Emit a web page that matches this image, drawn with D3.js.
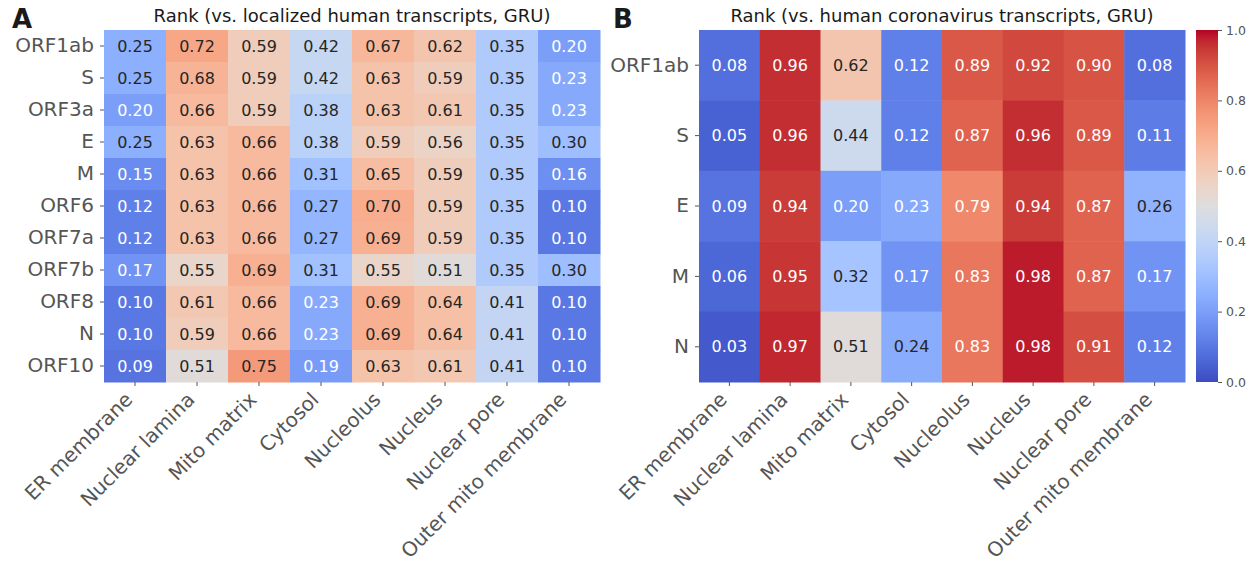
<!DOCTYPE html>
<html>
<head>
<meta charset="utf-8">
<script src="https://cdn.jsdelivr.net/npm/d3@7"></script>
<style>
  body { margin: 0; background: #fff; }
  svg { font-family: "DejaVu Sans", sans-serif; }
</style>
</head>
<body>
<svg id="chart" width="1256" height="564"></svg>
<script>
const compartments = ["ER membrane", "Nuclear lamina", "Mito matrix", "Cytosol",
  "Nucleolus", "Nucleus", "Nuclear pore", "Outer mito membrane"];

const genesA = ["ORF1ab", "S", "ORF3a", "E", "M", "ORF6", "ORF7a", "ORF7b", "ORF8", "N", "ORF10"];
const valuesA = [
  [0.25, 0.72, 0.59, 0.42, 0.67, 0.62, 0.35, 0.20],
  [0.25, 0.68, 0.59, 0.42, 0.63, 0.59, 0.35, 0.23],
  [0.20, 0.66, 0.59, 0.38, 0.63, 0.61, 0.35, 0.23],
  [0.25, 0.63, 0.66, 0.38, 0.59, 0.56, 0.35, 0.30],
  [0.15, 0.63, 0.66, 0.31, 0.65, 0.59, 0.35, 0.16],
  [0.12, 0.63, 0.66, 0.27, 0.70, 0.59, 0.35, 0.10],
  [0.12, 0.63, 0.66, 0.27, 0.69, 0.59, 0.35, 0.10],
  [0.17, 0.55, 0.69, 0.31, 0.55, 0.51, 0.35, 0.30],
  [0.10, 0.61, 0.66, 0.23, 0.69, 0.64, 0.41, 0.10],
  [0.10, 0.59, 0.66, 0.23, 0.69, 0.64, 0.41, 0.10],
  [0.09, 0.51, 0.75, 0.19, 0.63, 0.61, 0.41, 0.10]
];

const genesB = ["ORF1ab", "S", "E", "M", "N"];
const valuesB = [
  [0.08, 0.96, 0.62, 0.12, 0.89, 0.92, 0.90, 0.08],
  [0.05, 0.96, 0.44, 0.12, 0.87, 0.96, 0.89, 0.11],
  [0.09, 0.94, 0.20, 0.23, 0.79, 0.94, 0.87, 0.26],
  [0.06, 0.95, 0.32, 0.17, 0.83, 0.98, 0.87, 0.17],
  [0.03, 0.97, 0.51, 0.24, 0.83, 0.98, 0.91, 0.12]
];

const cbarTicks = [0, 0.2, 0.4, 0.6, 0.8, 1.0];

// matplotlib "coolwarm" (Moreland) sampled at 33 points
const coolwarmStops = [
  [59,76,192],[68,90,204],[77,104,215],[87,117,225],[98,130,234],[108,142,241],
  [119,154,247],[130,165,251],[141,176,254],[152,185,255],[163,194,255],[174,201,253],
  [184,208,249],[194,213,244],[204,217,238],[213,219,230],[221,221,221],[229,216,209],
  [236,211,197],[241,204,184],[245,196,172],[247,187,159],[247,177,147],[247,166,134],
  [244,154,123],[241,141,111],[236,127,99],[229,112,88],[222,96,77],[213,80,66],
  [203,62,56],[192,40,47],[180,4,38]
];
const color = d3.scaleLinear()
  .domain(coolwarmStops.map((_, i) => i / (coolwarmStops.length - 1)))
  .range(coolwarmStops.map(c => d3.rgb(c[0], c[1], c[2])))
  .interpolate(d3.interpolateRgb)
  .clamp(true);

// seaborn picks annotation colour by relative luminance
function lum(c) {
  const r = d3.rgb(c);
  const f = v => { v /= 255; return v <= 0.03928 ? v / 12.92 : Math.pow((v + 0.055) / 1.055, 2.4); };
  return 0.2126 * f(r.r) + 0.7152 * f(r.g) + 0.0722 * f(r.b);
}

const svg = d3.select("#chart");
const tickCol = "#555";

function heatmap(opts) {
  const { genes, values, x0, x1, y0, y1, title, letter, letterX } = opts;
  const g = svg.append("g");
  const x = d3.scaleBand().domain(compartments).range([x0, x1]);
  const y = d3.scaleBand().domain(genes).range([y0, y1]);

  const cells = [];
  values.forEach((row, i) => row.forEach((v, j) => cells.push({ gene: genes[i], comp: compartments[j], v })));

  g.selectAll("rect.cell").data(cells).join("rect")
    .attr("class", "cell")
    .attr("x", d => x(d.comp))
    .attr("y", d => y(d.gene))
    .attr("width", x.bandwidth() + 0.5)
    .attr("height", y.bandwidth() + 0.5)
    .attr("fill", d => color(d.v));

  g.selectAll("text.ann").data(cells).join("text")
    .attr("class", "ann")
    .attr("x", d => x(d.comp) + x.bandwidth() / 2)
    .attr("y", d => y(d.gene) + y.bandwidth() / 2)
    .attr("text-anchor", "middle")
    .attr("dominant-baseline", "central")
    .attr("font-size", 16)
    .attr("fill", d => lum(color(d.v)) > 0.408 ? "#262626" : "#fff")
    .text(d => d.v.toFixed(2));

  // y axis
  const yAx = g.append("g").attr("transform", `translate(${x0},0)`)
    .call(d3.axisLeft(y).tickSize(4).tickPadding(6));
  yAx.select(".domain").remove();
  yAx.selectAll("line").attr("stroke", tickCol);
  yAx.selectAll("text").attr("font-size", 20).attr("fill", tickCol)
    .attr("font-family", "DejaVu Sans");

  // x axis
  const xAx = g.append("g").attr("transform", `translate(0,${y1})`)
    .call(d3.axisBottom(x).tickSize(4).tickPadding(0));
  xAx.select(".domain").remove();
  xAx.selectAll("line").attr("stroke", tickCol);
  xAx.selectAll("text").attr("font-size", 20).attr("fill", tickCol)
    .attr("font-family", "DejaVu Sans")
    .attr("text-anchor", "end")
    .attr("dy", null)
    .attr("transform", "translate(-4,16) rotate(-45)");

  svg.append("text")
    .attr("x", (x0 + x1) / 2).attr("y", 22)
    .attr("text-anchor", "middle")
    .attr("font-size", 18).attr("fill", "#1a1a1a")
    .text(title);

  svg.append("text")
    .attr("x", letterX).attr("y", 28)
    .attr("font-size", 26).attr("font-weight", "bold").attr("fill", "#1a1a1a")
    .text(letter);
}

heatmap({ genes: genesA, values: valuesA, x0: 104, x1: 600, y0: 30, y1: 382,
  title: "Rank (vs. localized human transcripts, GRU)", letter: "A", letterX: 12 });
heatmap({ genes: genesB, values: valuesB, x0: 699, x1: 1185, y0: 30, y1: 382,
  title: "Rank (vs. human coronavirus transcripts, GRU)", letter: "B", letterX: 613 });

// colorbar
const cb = { x: 1196, w: 22, y0: 30, y1: 382 };
const defs = svg.append("defs");
const grad = defs.append("linearGradient").attr("id", "cw")
  .attr("x1", 0).attr("y1", 1).attr("x2", 0).attr("y2", 0);
grad.selectAll("stop").data(d3.range(0, 1.0001, 1 / 32)).join("stop")
  .attr("offset", d => d)
  .attr("stop-color", d => color(d));
svg.append("rect")
  .attr("x", cb.x).attr("y", cb.y0)
  .attr("width", cb.w).attr("height", cb.y1 - cb.y0)
  .attr("fill", "url(#cw)");
const cbScale = d3.scaleLinear().domain([0, 1]).range([cb.y1, cb.y0]);
const cbAx = svg.append("g").attr("transform", `translate(${cb.x + cb.w},0)`)
  .call(d3.axisRight(cbScale).tickValues(cbarTicks).tickFormat(d3.format(".1f")).tickSize(4).tickPadding(4));
cbAx.select(".domain").remove();
cbAx.selectAll("line").attr("stroke", tickCol);
cbAx.selectAll("text").attr("font-size", 12.5).attr("fill", tickCol).attr("font-family", "DejaVu Sans");
</script>
</body>
</html>
